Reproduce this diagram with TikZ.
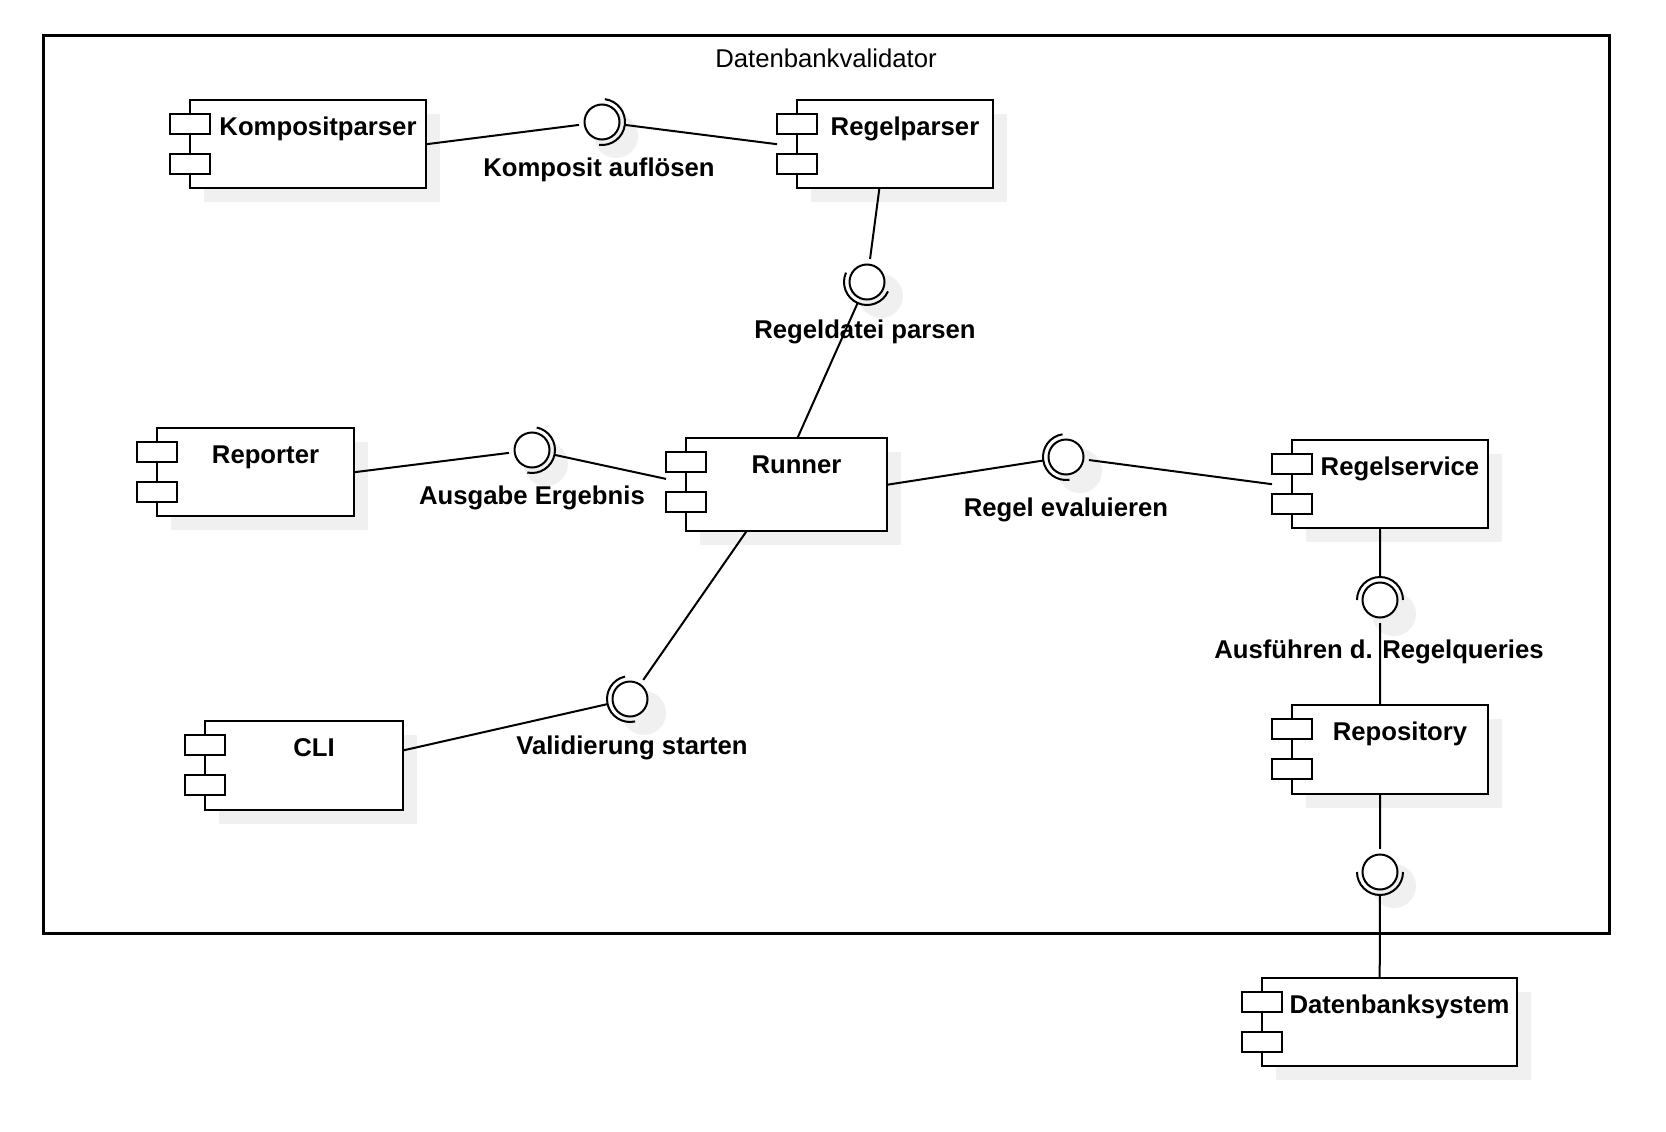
\documentclass[tikz,border=0pt]{standalone}
\usepackage{fontspec}
\setmainfont{Liberation Sans}
\usetikzlibrary{calc}
\definecolor{shadowc}{RGB}{240,240,240}
\tikzset{
  compbox/.style={draw=black, fill=white, line width=2.6pt},
  conn/.style={draw=black, line width=2pt},
  lbl/.style={font=\fontsize{25.7}{30}\selectfont\bfseries, inner sep=0pt, anchor=base},
  ifnode/.style={circle, minimum size=46pt, inner sep=0pt},
  ballst/.style={draw=black, fill=white, line width=2pt},
}
% name, L, T, R, B, text
\newcommand\umlcomp[6]{%
  \fill[shadowc] (#2+14,-#3-14) rectangle (#4+14,-#5-14);
  \node[rectangle, inner sep=0pt, minimum width={#4-#2+20}, minimum height={#5-#3}, anchor=north west] (#1) at (#2-20,-#3) {};
  \draw[compbox] (#2,-#3) rectangle (#4,-#5);
  \draw[compbox] (#2-20,-#3-14) rectangle (#2+20,-#3-34);
  \draw[compbox] (#2-20,-#3-54) rectangle (#2+20,-#3-74);
  \node[lbl] (#1t) at ({(#2+#4)/2+10},-#3-35) {#6};
}
% interface name, angle of socket
\newcommand\ballsock[2]{%
  \draw[ballst] (#1) circle (17.5);
  \begin{scope}[shift={(#1)}, rotate=#2]
    \draw[conn] (0,23) arc[start angle=90, end angle=-90, radius=23];
  \end{scope}
}
\begin{document}
\begin{tikzpicture}[x=1pt, y=1pt]
\useasboundingbox (0,0) rectangle (1666,-1132);
\fill[white] (0,0) rectangle (1666,-1132);

% outer frame
\node[draw=black, line width=2.6pt, minimum width=1566pt, minimum height=898pt, inner sep=0pt, anchor=north west] (frame) at (42,-34) {};
\node[lbl, font=\fontsize{25.7}{30}\selectfont] (title) at (826,-67) {Datenbankvalidator};

% components
\umlcomp{kp}{190}{100}{426}{188}{Kompositparser}
\umlcomp{rp}{797}{100}{993}{188}{Regelparser}
\umlcomp{rep}{157}{428}{354}{516}{Reporter}
\umlcomp{run}{686}{438}{887}{531}{Runner}
\umlcomp{rs}{1292}{440}{1488}{528}{Regelservice}
\umlcomp{cli}{205}{721}{403}{810}{CLI}
\umlcomp{repo}{1292}{705}{1488}{794}{Repository}
\umlcomp{db}{1262}{978}{1517}{1066}{Datenbanksystem}

% interfaces
\node[ifnode] (i1) at (602,-122) {};
\node[ifnode] (i2) at (867,-282) {};
\node[ifnode] (i3) at (532,-450) {};
\node[ifnode] (i4) at (1066,-457) {};
\node[ifnode] (i5) at (1380,-600) {};
\node[ifnode] (i6) at (1380,-872) {};
\node[ifnode] (i7) at (630,-699) {};

\foreach \n in {i1,i2,i3,i4,i5,i6,i7}
  \fill[shadowc] ($(\n)+(14,-14)$) circle (22);

% connectors
\draw[conn] (kp.east) -- (i1);
\draw[conn] (i1) -- (rp.west);
\draw[conn] (rp) -- (i2);
\draw[conn] (i2) -- (run);
\draw[conn] (rep.east) -- (i3);
\draw[conn] (i3) -- (run.177);
\draw[conn] (run.east) -- (i4);
\draw[conn] (i4) -- (rs.west);
\draw[conn] (rs.south) -- (i5);
\draw[conn] (i5) -- (repo.north);
\draw[conn] (repo.south) -- (i6);
\draw[conn] (i6) -- (db.north);
\draw[conn] (cli.8) -- (i7);
\draw[conn] (i7) -- (run.237);

% balls and sockets
\ballsock{i1}{-7.1}
\ballsock{i2}{245.9}
\ballsock{i3}{-11.8}
\ballsock{i4}{188.7}
\ballsock{i5}{90}
\ballsock{i6}{-90}
\ballsock{i7}{192.7}

% labels
\node[lbl] (l1) at (599,-176) {Komposit auflösen};
\node[lbl] (l2) at (865,-338) {Regeldatei parsen};
\node[lbl] (l3) at (532,-504) {Ausgabe Ergebnis};
\node[lbl] (l4) at (1066,-516) {Regel evaluieren};
\node[lbl] (l5) at (1379,-658) {Ausführen d. Regelqueries};
\node[lbl] (l7) at (632,-754) {Validierung starten};
\end{tikzpicture}
\end{document}
